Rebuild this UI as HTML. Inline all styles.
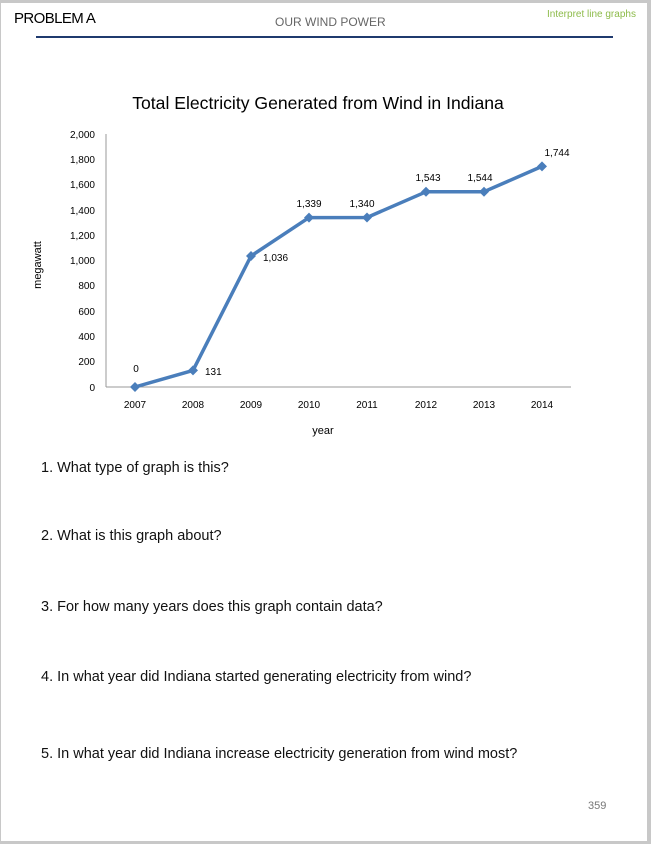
<!DOCTYPE html>
<html><head><meta charset="utf-8"><style>
body{margin:0;width:651px;height:844px;background:#c8c8c8;font-family:"Liberation Sans",sans-serif;overflow:hidden}
.page{position:absolute;left:1px;top:3px;width:646px;height:838px;background:#fff}
.t{position:absolute;white-space:nowrap}
</style></head><body>
<div class="page"></div>
<div class="t" style="left:14px;top:10px;font-size:15px;color:#000;letter-spacing:-0.6px">PROBLEM A</div>
<div class="t" style="left:275px;top:15px;font-size:12px;color:#666">OUR WIND POWER</div>
<div class="t" style="left:547px;top:9px;font-size:10px;color:#8dbb4a">Interpret line graphs</div>
<div style="position:absolute;left:36px;top:36px;width:577px;height:2px;background:#1f3a6e"></div>
<svg width="651" height="844" style="position:absolute;left:0;top:0" font-family="Liberation Sans, sans-serif">
<text x="318" y="109" font-size="17.6" text-anchor="middle" fill="#000">Total Electricity Generated from Wind in Indiana</text>
<line x1="106" y1="134" x2="106" y2="387" stroke="#999" stroke-width="1"/>
<line x1="106" y1="387" x2="571" y2="387" stroke="#999" stroke-width="1"/>
<g font-size="10" text-anchor="end" fill="#000">
<text x="95" y="138">2,000</text><text x="95" y="163">1,800</text><text x="95" y="188">1,600</text><text x="95" y="214">1,400</text><text x="95" y="239">1,200</text><text x="95" y="264">1,000</text><text x="95" y="289">800</text><text x="95" y="315">600</text><text x="95" y="340">400</text><text x="95" y="365">200</text><text x="95" y="391">0</text>
</g>
<g font-size="10" text-anchor="middle" fill="#000">
<text x="135" y="408">2007</text><text x="193" y="408">2008</text><text x="251" y="408">2009</text><text x="309" y="408">2010</text><text x="367" y="408">2011</text><text x="426" y="408">2012</text><text x="484" y="408">2013</text><text x="542" y="408">2014</text>
</g>
<text x="323" y="434" font-size="11" text-anchor="middle">year</text>
<text transform="translate(41,265) rotate(-90)" font-size="11" text-anchor="middle">megawatt</text>
<polyline points="135,387 193,370.4 251,256 309,217.6 367,217.5 426,191.8 484,191.7 542,166.4" fill="none" stroke="#4a7ebb" stroke-width="3.5" stroke-linejoin="round"/>
<g fill="#4a7ebb">
<path d="M135,382l5,5-5,5-5-5z"/><path d="M193,365.4l5,5-5,5-5-5z"/><path d="M251,251l5,5-5,5-5-5z"/><path d="M309,212.6l5,5-5,5-5-5z"/><path d="M367,212.5l5,5-5,5-5-5z"/><path d="M426,186.8l5,5-5,5-5-5z"/><path d="M484,186.7l5,5-5,5-5-5z"/><path d="M542,161.4l5,5-5,5-5-5z"/>
</g>
<g font-size="10" fill="#000">
<text x="136" y="372" text-anchor="middle">0</text>
<text x="205" y="375">131</text>
<text x="263" y="261">1,036</text>
<text x="309" y="207" text-anchor="middle">1,339</text>
<text x="362" y="207" text-anchor="middle">1,340</text>
<text x="428" y="181" text-anchor="middle">1,543</text>
<text x="480" y="181" text-anchor="middle">1,544</text>
<text x="557" y="156" text-anchor="middle">1,744</text>
</g>
<g font-size="14.5" fill="#111">
<text x="41" y="472">1. What type of graph is this?</text>
<text x="41" y="540">2. What is this graph about?</text>
<text x="41" y="611">3. For how many years does this graph contain data?</text>
<text x="41" y="681">4. In what year did Indiana started generating electricity from wind?</text>
<text x="41" y="758">5. In what year did Indiana increase electricity generation from wind most?</text>
</g>
<text x="588" y="809" font-size="11" fill="#777">359</text>
</svg>
</body></html>
